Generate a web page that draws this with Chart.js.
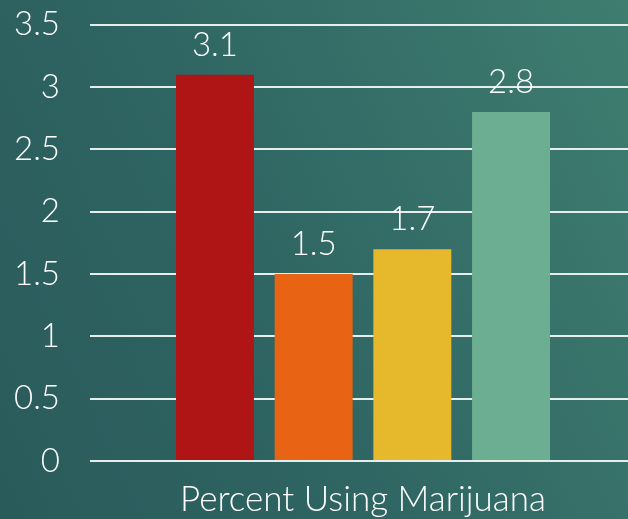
<!DOCTYPE html>
<html>
<head>
<meta charset="utf-8">
<script src="https://cdn.jsdelivr.net/npm/chart.js@4"></script>
<style>
  html, body { margin:0; padding:0; overflow:hidden; }
  body { width:628px; height:519px; position:relative; background:linear-gradient(65deg, #2a5b5b 0%, #2e6462 40%, #3f7d70 100%); }
  #wrap { position:absolute; left:0; top:-25px; width:640px; height:544px; }
</style>
</head>
<body>
<div id="wrap"><canvas id="c"></canvas></div>
<script>
/* data */
const categories = ['Percent Using Marijuana'];
const seriesNames = ['Series 1', 'Series 2', 'Series 3', 'Series 4'];
const seriesValues = [[3.1], [1.5], [1.7], [2.8]];
const seriesColors = ['#b01515', '#e86414', '#e6b82c', '#6cae92'];
const yTicks = [0, 0.5, 1, 1.5, 2, 2.5, 3, 3.5];

const FONT = 'Lato, "Open Sans", sans-serif';

/* value labels above bars */
const valueLabels = {
  id: 'valueLabels',
  afterDatasetsDraw(chart){
    const ctx = chart.ctx;
    ctx.save();
    ctx.fillStyle = '#ffffff';
    ctx.font = '300 33px ' + FONT;
    ctx.textAlign = 'center';
    ctx.textBaseline = 'alphabetic';
    chart.data.datasets.forEach((ds, i) => {
      chart.getDatasetMeta(i).data.forEach((bar, j) => {
        ctx.fillText(String(ds.data[j]), bar.x, bar.y - 19);
      });
    });
    ctx.restore();
  }
};

new Chart(document.getElementById('c'), {
  type: 'bar',
  data: {
    labels: categories,
    datasets: seriesNames.map((n, i) => ({
      label: n,
      data: seriesValues[i],
      backgroundColor: seriesColors[i],
      borderWidth: 0,
      categoryPercentage: 0.723,
      barPercentage: 0.79
    }))
  },
  options: {
    responsive: true,
    maintainAspectRatio: false,
    animation: false,
    layout: { padding: { top: 0, left: 0, right: 4, bottom: 0 } },
    plugins: { legend: { display: false }, tooltip: { enabled: false } },
    scales: {
      x: {
        grid: { display: false },
        border: { display: false },
        ticks: { color: '#ffffff', font: { family: FONT, size: 35, weight: 300 }, padding: 10 },
        afterFit(s){ s.height = 58; }
      },
      y: {
        min: 0, max: 3.5,
        afterBuildTicks(s){ s.ticks = yTicks.map(v => ({ value: v })); },
        grid: { color: '#e6eeec', lineWidth: 2, drawTicks: false },
        border: { display: false },
        ticks: { color: '#ffffff', font: { family: FONT, size: 33, weight: 300 }, padding: 30,
                 callback: v => String(v) },
        afterFit(s){ s.width = 90; }
      }
    }
  },
  plugins: [valueLabels]
});
</script>
</body>
</html>
